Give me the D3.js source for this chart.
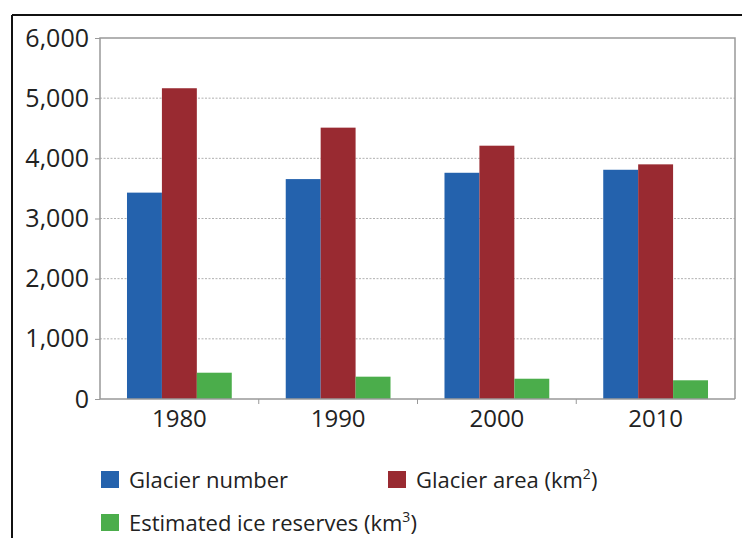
<!DOCTYPE html>
<html>
<head>
<meta charset="utf-8">
<script src="https://cdn.jsdelivr.net/npm/d3@7"></script>
<style>
  html, body { margin: 0; padding: 0; background: #fff; }
  svg { display: block; }
  text { font-family: "Open Sans", "Liberation Sans", sans-serif; fill: #222; }
</style>
</head>
<body>
<svg id="chart" width="742" height="538"></svg>
<script>
const categories = ["1980", "1990", "2000", "2010"];
const seriesNames = ["Glacier number", "Glacier area", "Estimated ice reserves"];
const glacierNumber = [3430, 3655, 3760, 3810];
const glacierArea = [5165, 4510, 4210, 3900];
const iceReserves = [437, 371, 337, 311];
const yTicks = [0, 1000, 2000, 3000, 4000, 5000, 6000];
const colors = ["#2462ad", "#992a31", "#4bad4b"];

const series = [glacierNumber, glacierArea, iceReserves];
const svg = d3.select("#chart");

// outer frame (partially cropped)
svg.append("line").attr("x1", 12).attr("x2", 742).attr("y1", 15).attr("y2", 15)
  .attr("stroke", "#111").attr("stroke-width", 2);
svg.append("line").attr("x1", 12).attr("x2", 12).attr("y1", 15).attr("y2", 538)
  .attr("stroke", "#111").attr("stroke-width", 2);

const pLeft = 100, pRight = 735, pTop = 38, pBottom = 399;

const x0 = d3.scaleBand().domain(categories).range([pLeft, pRight])
  .paddingInner(0.34).paddingOuter(0.17);
const x1 = d3.scaleBand().domain(d3.range(series.length)).range([0, x0.bandwidth()]);
const y = d3.scaleLinear().domain([0, 6000]).range([pBottom, pTop]);

// gridlines
svg.append("g").selectAll("line").data(yTicks.filter(d => d > 0 && d < 6000)).join("line")
  .attr("x1", pLeft).attr("x2", pRight)
  .attr("y1", d => y(d)).attr("y2", d => y(d))
  .attr("stroke", "#b0b0b0").attr("stroke-width", 1).attr("stroke-dasharray", "2,1.5");

// plot frame
svg.append("path")
  .attr("d", `M${pLeft},${pBottom}V${pTop}H${pRight}V${pBottom}`)
  .attr("fill", "none").attr("stroke", "#999").attr("stroke-width", 1.5);

// bars
const groups = svg.append("g").selectAll("g").data(categories).join("g")
  .attr("transform", c => `translate(${x0(c)},0)`);
groups.selectAll("rect")
  .data((c, i) => series.map((s, k) => ({ k, v: s[i] })))
  .join("rect")
  .attr("x", d => x1(d.k))
  .attr("width", x1.bandwidth())
  .attr("y", d => y(d.v))
  .attr("height", d => y(0) - y(d.v))
  .attr("fill", d => colors[d.k]);

// y axis
const yAxis = d3.axisLeft(y).tickValues(yTicks).tickSize(5).tickPadding(6)
  .tickFormat(d3.format(","));
const gy = svg.append("g").attr("transform", `translate(${pLeft},0)`).call(yAxis);
gy.select(".domain").remove();
gy.selectAll(".tick line").attr("stroke", "#999");
gy.selectAll(".tick text").attr("font-size", 25).attr("fill", "#222")
  .attr("font-family", "'Open Sans', sans-serif");

// x axis
const gx = svg.append("g").attr("transform", `translate(0,${pBottom})`);
gx.append("line").attr("x1", pLeft).attr("x2", pRight).attr("stroke", "#999").attr("stroke-width", 1.5);
const bounds = categories.slice(1).map(c => x0(c) - x0.step() * x0.paddingInner() / 2);
gx.selectAll("line.tk").data(bounds).join("line").attr("class", "tk")
  .attr("x1", d => d).attr("x2", d => d).attr("y1", 0).attr("y2", 5).attr("stroke", "#999");
const xAxis = d3.axisBottom(x0).tickSize(0).tickPadding(11);
const gxl = svg.append("g").attr("transform", `translate(0,${pBottom})`).call(xAxis);
gxl.select(".domain").remove();
gxl.selectAll(".tick text").attr("font-size", 24).attr("fill", "#222")
  .attr("font-family", "'Open Sans', sans-serif");

// legend
const legendItems = [
  { k: 0, x: 101, y: 471, label: "Glacier number", sup: null },
  { k: 1, x: 388, y: 471, label: "Glacier area (km", sup: "2" },
  { k: 2, x: 101, y: 514, label: "Estimated ice reserves (km", sup: "3" }
];
const lg = svg.append("g").selectAll("g").data(legendItems).join("g")
  .attr("transform", d => `translate(${d.x},${d.y})`);
lg.append("rect").attr("width", 18).attr("height", 17).attr("fill", d => colors[d.k]);
const lt = lg.append("text").attr("x", 28).attr("y", 17).attr("font-size", 22).attr("fill", "#222");
lt.append("tspan").text(d => d.label);
lt.filter(d => d.sup).append("tspan").attr("font-size", 14).attr("dy", -9).text(d => d.sup);
lt.filter(d => d.sup).append("tspan").attr("dy", 9).text(")");
</script>
</body>
</html>
